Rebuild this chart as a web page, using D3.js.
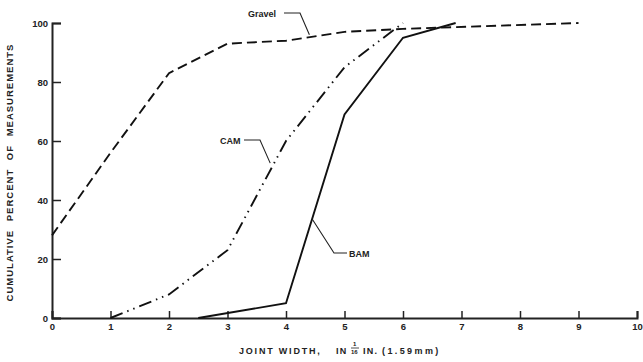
<!DOCTYPE html>
<html>
<head>
<meta charset="utf-8">
<script src="https://cdn.jsdelivr.net/npm/d3@7"></script>
<style>
  body { margin: 0; background: #fff; }
  text { font-family: "Liberation Sans", Arial, sans-serif; fill: #222; }
</style>
</head>
<body>
<div id="chart"></div>
<script>
// data
const gravelX = [0, 1, 2, 3, 4, 5, 6, 9];
const gravelY = [28, 56, 83, 93, 94, 97, 98, 100];
const camX = [1, 2, 3, 4, 5, 6];
const camY = [0, 8, 23, 60, 85, 100];
const bamX = [2.5, 4, 5, 6, 6.9];
const bamY = [0, 5, 69, 95, 100];
const xTicks = [0, 1, 2, 3, 4, 5, 6, 7, 8, 9, 10];
const yTicks = [0, 20, 40, 60, 80, 100];

let width = 643, height = 362;
let margin = {top: 23, right: 6, bottom: 44, left: 52};

let svg = d3.select("#chart").append("svg")
    .attr("width", width)
    .attr("height", height);

let x = d3.scaleLinear().domain([0, 10]).range([margin.left, width - margin.right]);
let y = d3.scaleLinear().domain([0, 100]).range([height - margin.bottom, margin.top]);

// axes
let xAxis = d3.axisBottom(x).tickValues(xTicks).tickSize(-7).tickPadding(5);
let yAxis = d3.axisLeft(y).tickValues(yTicks).tickSize(-9).tickPadding(4);

let gx = svg.append("g")
    .attr("transform", "translate(0," + y(0) + ")")
    .call(xAxis);
let gy = svg.append("g")
    .attr("transform", "translate(" + x(0) + ",0)")
    .call(yAxis);

[gx, gy].forEach(g => {
    g.select(".domain").attr("stroke", "#222").attr("stroke-width", 2);
    g.selectAll(".tick line").attr("stroke", "#222").attr("stroke-width", 1.5);
    g.selectAll(".tick text")
        .attr("font-size", "9.5px")
        .attr("font-weight", "bold")
        .attr("fill", "#222");
});
gy.selectAll(".tick text").attr("dy", "0.35em");

// lines
let line = d3.line().x(d => x(d[0])).y(d => y(d[1]));

function draw(xs, ys, dash) {
    svg.append("path")
        .datum(xs.map((v, i) => [v, ys[i]]))
        .attr("fill", "none")
        .attr("stroke", "#111")
        .attr("stroke-width", 1.9)
        .attr("stroke-dasharray", dash)
        .attr("d", line);
}
draw(gravelX, gravelY, "10,5");
draw(camX, camY, "13,5,1.5,5,1.5,5");
draw(bamX, bamY, null);

// labels with leaders
function label(txt, tx, ty, pts) {
    svg.append("text")
        .attr("x", tx).attr("y", ty)
        .attr("font-size", "9px")
        .attr("font-weight", "bold")
        .text(txt);
    svg.append("path")
        .attr("d", d3.line()(pts))
        .attr("fill", "none")
        .attr("stroke", "#222")
        .attr("stroke-width", 1.1);
}
label("Gravel", 248, 17, [[284, 13], [300, 13], [x(4.4), y(96)]]);
label("CAM", 220, 144, [[244, 140], [260, 140], [x(3.73), y(52.5)]]);
label("BAM", 349, 257, [[347, 253], [334, 253], [x(4.45), y(33.5)]]);

// axis titles
svg.append("text")
    .attr("transform", "translate(13," + (y(50) + 2) + ") rotate(-90)")
    .attr("text-anchor", "middle")
    .attr("font-size", "9.5px")
    .attr("font-weight", "bold")
    .attr("letter-spacing", "1px")
    .attr("word-spacing", "5px")
    .text("CUMULATIVE PERCENT OF MEASUREMENTS");

function xTitle(txt, tx, size, ty, ls) {
    svg.append("text")
        .attr("x", tx).attr("y", ty || 354)
        .attr("font-size", size || "9px")
        .attr("font-weight", "bold")
        .attr("letter-spacing", ls || "1.3px")
        .text(txt);
}
xTitle("JOINT  WIDTH,", 239, "9px", 354, "1.8px");
xTitle("IN", 336);
xTitle("1", 353, "6px", 346, "0px");
svg.append("line")
    .attr("x1", 351).attr("x2", 359)
    .attr("y1", 348).attr("y2", 348)
    .attr("stroke", "#222").attr("stroke-width", 0.8);
xTitle("16", 351, "6px", 354, "0px");
xTitle("IN.", 363);
xTitle("(1.59mm)", 382, "9px", 354, "2.4px");
</script>
</body>
</html>
